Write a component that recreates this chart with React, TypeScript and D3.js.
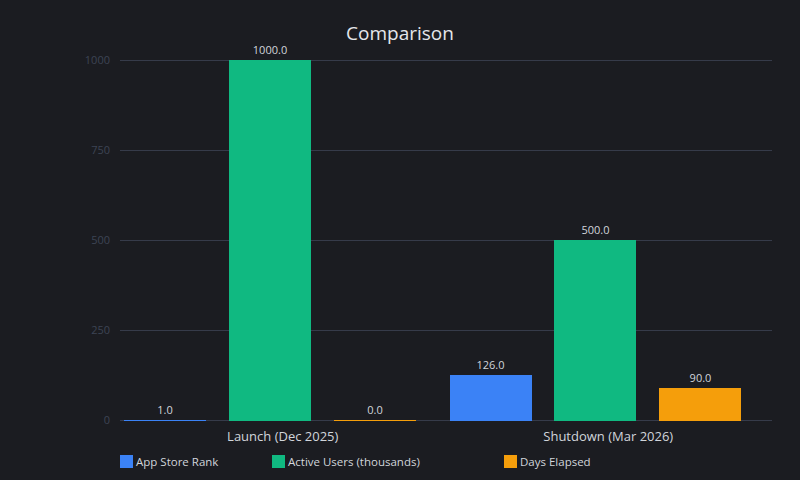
import React, { useEffect, useRef } from 'react';
import * as d3 from 'd3';

const categories = ['Launch (Dec 2025)', 'Shutdown (Mar 2026)'];
const seriesNames = ['App Store Rank', 'Active Users (thousands)', 'Days Elapsed'];
const appStoreRank = [1, 126];
const activeUsers = [1000, 500];
const daysElapsed = [0, 90];
const yTicks = [0, 250, 500, 750, 1000];
const colors = ['#3b82f6', '#10b981', '#f59e0b'];

const App = () => {
  const ref = useRef<SVGSVGElement>(null);

  useEffect(() => {
    const svg = d3.select(ref.current);
    svg.selectAll('*').remove();

    const W = 800, H = 480;
    const left = 120, right = 772, top = 60, bottom = 420;
    const font = '"Open Sans", "DejaVu Sans", sans-serif';

    svg.append('rect').attr('width', W).attr('height', H).attr('fill', '#1b1c21');

    // Title
    svg.append('text')
      .attr('x', W / 2).attr('y', 40)
      .attr('text-anchor', 'middle')
      .attr('fill', '#e5e7eb')
      .style('font-family', font)
      .style('font-size', '19px')
      .text('Comparison');

    const x0 = d3.scaleBand().domain(categories).range([left, right - 1]).padding(0);
    const x1 = d3.scaleBand().domain(seriesNames).range([4, 296]).paddingInner(0.219).paddingOuter(0);
    const y = d3.scaleLinear().domain([0, 1000]).range([bottom, top]);

    // Grid + y labels
    svg.append('g').selectAll('line').data(yTicks).enter().append('line')
      .attr('x1', left).attr('x2', right)
      .attr('y1', d => y(d) + 0.5).attr('y2', d => y(d) + 0.5)
      .attr('stroke', '#363b4a').attr('stroke-width', 1);

    svg.append('g').selectAll('text').data(yTicks).enter().append('text')
      .attr('x', 110).attr('y', d => y(d) + 4)
      .attr('text-anchor', 'end')
      .attr('fill', '#3d4454')
      .style('font-family', font)
      .style('font-size', '11px')
      .text(d => String(d));

    const series = [appStoreRank, activeUsers, daysElapsed];
    const rows = categories.flatMap((c, i) =>
      seriesNames.map((s, j) => ({ cat: c, name: s, value: series[j][i], color: colors[j] })));

    // Bars
    svg.append('g').selectAll('rect').data(rows).enter().append('rect')
      .attr('x', d => Math.round(x0(d.cat)! + x1(d.name)!))
      .attr('y', d => Math.min(Math.round(y(d.value)), bottom))
      .attr('width', Math.round(x1.bandwidth()))
      .attr('height', d => Math.max(bottom + 1 - Math.round(y(d.value)), 1))
      .attr('fill', d => d.color);

    // Value labels
    svg.append('g').selectAll('text').data(rows).enter().append('text')
      .attr('x', d => x0(d.cat)! + x1(d.name)! + x1.bandwidth() / 2)
      .attr('y', d => y(d.value) - 6)
      .attr('text-anchor', 'middle')
      .attr('fill', '#d1d5db')
      .style('font-family', font)
      .style('font-size', '11px')
      .text(d => d.value.toFixed(1));

    // Category labels
    svg.append('g').selectAll('text').data(categories).enter().append('text')
      .attr('x', d => x0(d)! + x0.bandwidth() / 2)
      .attr('y', 441)
      .attr('text-anchor', 'middle')
      .attr('fill', '#d1d5db')
      .style('font-family', font)
      .style('font-size', '13px')
      .text(d => d);

    // Legend
    const legendX = [120, 272, 504];
    const lg = svg.append('g').selectAll('g').data(seriesNames).enter().append('g')
      .attr('transform', (d, i) => `translate(${legendX[i]},455)`);
    lg.append('rect').attr('width', 13).attr('height', 13).attr('fill', (d, i) => colors[i]);
    lg.append('text')
      .attr('x', 16).attr('y', 11)
      .attr('fill', '#d1d5db')
      .style('font-family', font)
      .style('font-size', '11.5px')
      .text(d => d);
  }, []);

  return <svg ref={ref} width={800} height={480} style={{ position: 'absolute', left: 0, top: 0 }} />;
};

export default App;
